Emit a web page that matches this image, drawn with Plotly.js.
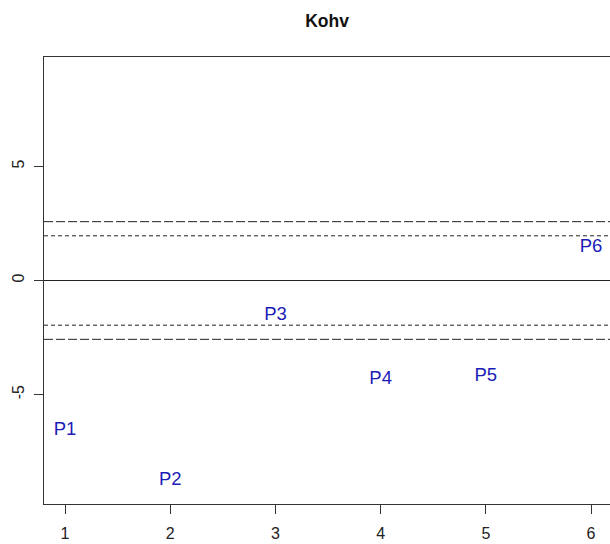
<!DOCTYPE html>
<html>
<head>
<meta charset="utf-8">
<script src="https://cdn.plot.ly/plotly-3.0.1.min.js"></script>
<style>html,body{margin:0;padding:0;background:#fff;}#chart{width:610px;height:544px;}</style>
</head>
<body>
<div id="chart"></div>
<script>
// Data
var pointLabels = ["P1", "P2", "P3", "P4", "P5", "P6"];
var xValues = [1, 2, 3, 4, 5, 6];
var yValues = [-6.55, -8.75, -1.53, -4.32, -4.22, 1.45];
var zeroLine = [0];
var shortDashLines = [1.96, -1.96];
var longDashLines = [2.58, -2.58];
var xTicks = [1, 2, 3, 4, 5, 6];
var yTicks = [-5, 0, 5];
var chartTitle = "Kohv";

var shapes = [];
zeroLine.forEach(function (v) {
  shapes.push({type: "line", xref: "paper", x0: 0, x1: 1, yref: "y", y0: v, y1: v,
    line: {color: "#222", width: 1}});
});
shortDashLines.forEach(function (v) {
  shapes.push({type: "line", xref: "paper", x0: 0, x1: 1, yref: "y", y0: v, y1: v,
    line: {color: "#222", width: 1, dash: "4px,3px"}});
});
longDashLines.forEach(function (v) {
  shapes.push({type: "line", xref: "paper", x0: 0, x1: 1, yref: "y", y0: v, y1: v,
    line: {color: "#222", width: 1, dash: "9px,3px"}});
});

var trace = {
  x: xValues,
  y: yValues,
  text: pointLabels,
  mode: "text",
  type: "scatter",
  textposition: "middle center",
  textfont: {family: "Liberation Sans, Arial, sans-serif", size: 18.5, color: "#1c1cb8"},
  hoverinfo: "none",
  showlegend: false
};

var layout = {
  width: 610,
  height: 544,
  margin: {l: 44, r: 0, t: 57, b: 40},
  paper_bgcolor: "#fff",
  plot_bgcolor: "#fff",
  font: {family: "Liberation Sans, Arial, sans-serif", color: "#222"},
  title: {
    text: "<b>" + chartTitle + "</b>",
    font: {family: "Liberation Sans, Arial, sans-serif", size: 17.5, color: "#111"},
    xref: "paper", x: 0.5, xanchor: "center",
    yref: "container", y: 1 - 21 / 544, yanchor: "middle"
  },
  xaxis: {
    range: [0.8, 6.18],
    tickvals: xTicks,
    ticktext: xTicks.map(String),
    ticks: "outside", ticklen: 9, tickcolor: "#333", tickwidth: 1,
    showline: true, linecolor: "#333", linewidth: 1, mirror: true,
    showgrid: false, zeroline: false,
    tickfont: {size: 16, color: "#222"},
    ticklabelstandoff: 6
  },
  yaxis: {
    range: [-9.8, 9.8],
    tickvals: yTicks,
    ticktext: yTicks.map(String),
    tickangle: -90,
    ticks: "outside", ticklen: 9, tickcolor: "#333", tickwidth: 1,
    showline: true, linecolor: "#333", linewidth: 1, mirror: false,
    showgrid: false, zeroline: false,
    tickfont: {size: 16, color: "#222"},
    ticklabelstandoff: 4
  },
  shapes: shapes
};

Plotly.newPlot("chart", [trace], layout, {displayModeBar: false, staticPlot: true});
</script>
</body>
</html>
